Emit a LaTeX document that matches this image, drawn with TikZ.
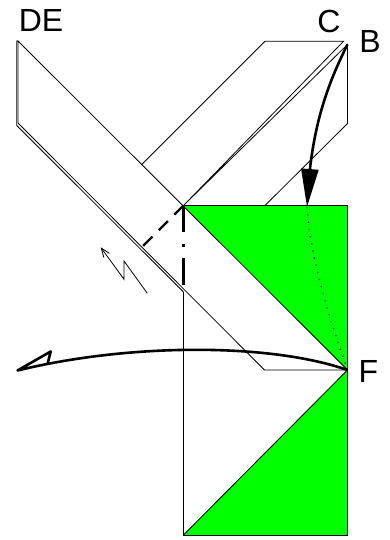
\documentclass[tikz,border=0pt]{standalone}
\usepackage{fontspec}
\setmainfont{Liberation Sans}
\usetikzlibrary{arrows.meta,bending}

\begin{document}
\begin{tikzpicture}[
    x=1pt,y=1pt,
    every node/.style={font=\fontsize{32}{32}\selectfont, inner sep=0pt},
    edge/.style={line width=0.8pt},
    fold/.style={line width=2.2pt},
    arr/.style={line width=2.6pt, -{Triangle[length=38pt, width=17pt, flex=1]}}
]
\useasboundingbox (0,0) rectangle (389,540);
% square
\coordinate (TL) at (183.5,334.5);
\coordinate (TR) at (347.5,334.5);
\coordinate (BL) at (183.5,5);
\coordinate (BR) at (347.5,5);
\coordinate (Fp) at (347.5,170);
\fill[green] (TL) -- (TR) -- (Fp) -- cycle;
\fill[green] (Fp) -- (BR) -- (BL) -- cycle;
% flap
\coordinate (Cp) at (343.5,498.7);
\coordinate (Bp) at (347.5,495.5);
\coordinate (H1) at (265,498.7);
\coordinate (H2) at (141.7,375.5);
\coordinate (H3) at (347.5,416.5);
\coordinate (H4) at (265,334.5);
\draw[edge] (H2) -- (H1) -- (Cp) -- (TL) -- (Bp) -- (H3) -- (H4);
% strip
\coordinate (D1) at (18,499);
\coordinate (D2) at (18,417);
\coordinate (E1) at (16.7,499);
\coordinate (E2) at (16.7,414.5);
\coordinate (E3) at (183.5,248);
\coordinate (J1) at (264.5,170);
\draw[edge] (Fp) -- (D1) -- (D2) -- (J1) -- (Fp);
\draw[edge] (D1) -- (E1) -- (E2) -- (E3);
\draw[edge] (TL) -- (TR) -- (BR) -- (BL) -- (E3);
\draw[edge] (BL) -- (Fp);
% fold lines
\coordinate (M1) at (142,293);
\coordinate (M2) at (183.5,252);
\draw[fold, dash pattern=on 13pt off 9pt] (TL) -- (M1);
\draw[fold, dash pattern=on 27pt off 12pt on 3pt off 11pt] (TL) -- (M2);
% lightning
\coordinate (Z1) at (147.3,246.7);
\coordinate (Z2) at (124,279);
\coordinate (Z3) at (124,260.7);
\coordinate (Z4) at (100.7,292.7);
\draw[edge, -{Straight Barb[length=9pt,width=7pt]}] (Z1) -- (Z2) -- (Z3) -- (Z4);
% moves
\coordinate (A1) at (307,333);
\draw[arr] (Bp) .. controls (322,445) and (310,400) .. (A1);
\draw[line width=1.3pt, dash pattern=on 1.3pt off 6pt] (A1) .. controls (310,285) and (328,225) .. (Fp);
\coordinate (T1) at (17.5,169.5);
\coordinate (T2) at (50.7,188.5);
\coordinate (T3) at (47.7,176.7);
\draw[line width=2.6pt, line join=round] (Fp) .. controls (270,197) and (130,197) .. (T1) -- (T2) -- (T3);
% labels
\node (DE) at (41,519) {DE};
\node (C) at (329,519) {C};
\node (B) at (370,498) {B};
\node (F) at (368.5,169) {F};
\end{tikzpicture}
\end{document}
